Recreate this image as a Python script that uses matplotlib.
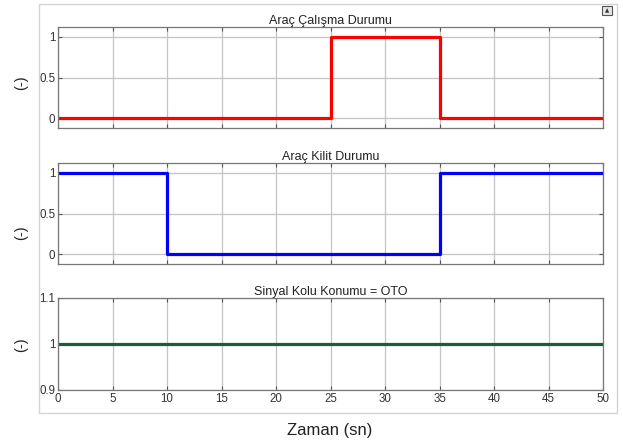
import matplotlib
matplotlib.use("Agg")
import matplotlib.pyplot as plt
from matplotlib.patches import Rectangle

plt.rcParams['font.family'] = ['Liberation Sans', 'DejaVu Sans']

# step signals (value holds until next time point)
t_calisma = [0, 25, 35, 50]
v_calisma = [0, 1, 0, 0]
t_kilit = [0, 10, 35, 50]
v_kilit = [1, 0, 1, 1]
t_sinyal = [0, 50]
v_sinyal = [1, 1]

titles = ['Araç Çalışma Durumu', 'Araç Kilit Durumu', 'Sinyal Kolu Konumu = OTO']
x_ticks = [0, 5, 10, 15, 20, 25, 30, 35, 40, 45, 50]

W, H = 623, 445
fig = plt.figure(figsize=(W / 100, H / 100), dpi=100)

def px_axes(x0, y0, x1, y1):
    return fig.add_axes([x0 / W, 1 - y1 / H, (x1 - x0) / W, (y1 - y0) / H])

# outer light panel frame
fig.patches.append(Rectangle((39 / W, 1 - 413 / H), (617 - 39) / W, (413 - 4) / H,
                             transform=fig.transFigure, fill=False,
                             edgecolor='#d4d4d4', lw=1.0))
# little icon top right
fig.patches.append(Rectangle((602 / W, 1 - 15 / H), 10 / W, 9 / H,
                             transform=fig.transFigure, facecolor='#e8e8e8',
                             edgecolor='#555555', lw=0.8))
fig.text(607 / W, 1 - 10.5 / H, '▲', fontsize=4, color='#333333',
         ha='center', va='center', family=['DejaVu Sans'])

ax1 = px_axes(58, 27, 603, 128)
ax2 = px_axes(58, 163, 603, 264)
ax3 = px_axes(58, 298, 603, 390)

ax1.plot(t_calisma, v_calisma, drawstyle='steps-post', color='#ff0000', lw=2.3)
ax2.plot(t_kilit, v_kilit, drawstyle='steps-post', color='#0000ff', lw=2.3)
ax3.plot(t_sinyal, v_sinyal, color='#1d5c38', lw=2.3)

for ax, title in zip([ax1, ax2, ax3], titles):
    ax.set_xlim(0, 50)
    ax.set_xticks(x_ticks)
    ax.grid(True, color='#c4c4c4', lw=0.9)
    ax.set_axisbelow(True)
    ax.tick_params(direction='in', top=True, right=True, length=3,
                   colors='#555555', labelcolor='#333333', labelsize=8.3, pad=2)
    for s in ax.spines.values():
        s.set_color('#777777')
        s.set_linewidth(0.9)
    ax.set_title(title, fontsize=9, color='#222222', pad=2)

for ax in [ax1, ax2]:
    ax.set_ylim(-0.12, 1.12)
    ax.set_yticks([0, 0.5, 1])
    ax.set_yticklabels(['0', '0.5', '1'])
    ax.tick_params(labelbottom=False)

ax3.set_ylim(0.9, 1.1)
ax3.set_yticks([0.9, 1.0, 1.1])
ax3.set_yticklabels(['0.9', '1', '1.1'])

for yp in [83, 233, 345]:
    fig.text(21 / W, 1 - yp / H, '(-)', rotation=90, fontsize=10.5,
             ha='center', va='center', color='#222222')

fig.text(330 / W, 1 - 430 / H, 'Zaman (sn)', fontsize=12, ha='center',
         va='center', color='#222222')

fig.savefig('out.png', dpi=100)
